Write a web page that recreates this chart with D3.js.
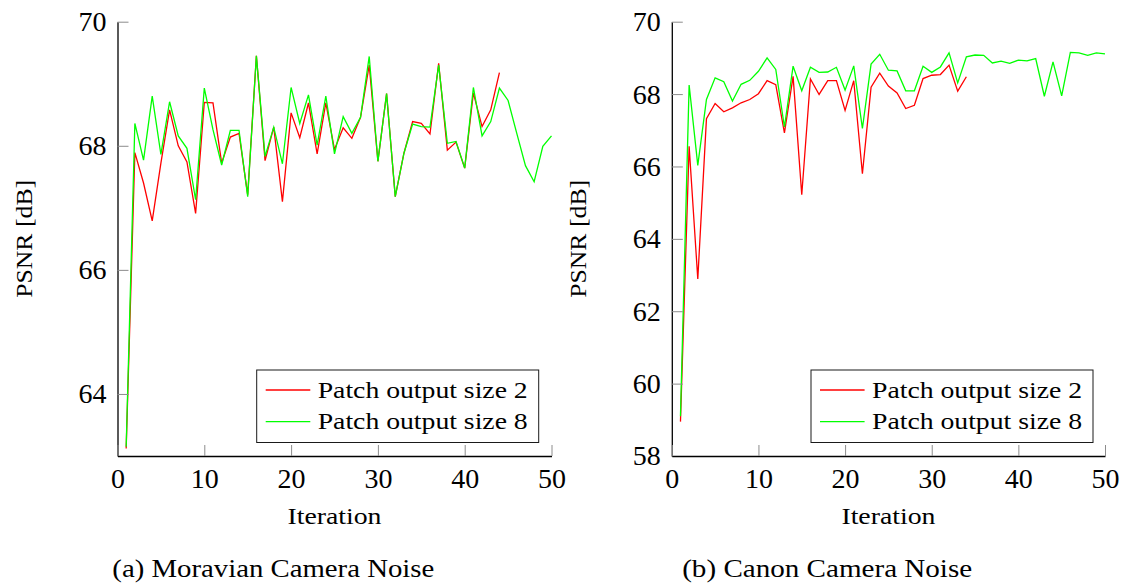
<!DOCTYPE html>
<html>
<head>
<meta charset="utf-8">
<script src="https://cdn.jsdelivr.net/npm/d3@7"></script>
<style>
  body { margin: 0; background: #fff; }
  svg { display: block; }
  svg text { font-family: "Liberation Serif", "Times New Roman", Times, "DejaVu Serif", serif; }
</style>
</head>
<body>
<svg id="fig" width="1129" height="588"></svg>
<script>
// Iteration numbers (x values)
const iterations = d3.range(1, 51);

// PSNR per iteration, Moravian camera noise
const moravianSize2 = [
  63.12, 67.89, 67.40, 66.79, 67.72, 68.58, 68.00, 67.74, 66.91, 68.70,
  68.69, 67.72, 68.14, 68.20, 67.21, 69.45, 67.76, 68.30, 67.10, 68.53,
  68.13, 68.69, 67.87, 68.69, 67.94, 68.29, 68.12, 68.46, 69.30, 67.75,
  68.84, 67.18, 67.88, 68.39, 68.36, 68.19, 69.33, 67.93, 68.06, 67.64,
  68.85, 68.31, 68.58, 69.18
];
const moravianSize8 = [
  63.15, 68.36, 67.77, 68.80, 67.86, 68.71, 68.16, 67.96, 67.13, 68.93,
  68.26, 67.69, 68.25, 68.25, 67.18, 69.45, 67.83, 68.30, 67.71, 68.94,
  68.36, 68.82, 68.01, 68.80, 67.87, 68.47, 68.20, 68.46, 69.44, 67.75,
  68.84, 67.18, 67.88, 68.35, 68.31, 68.30, 69.30, 68.04, 68.07, 67.64,
  68.94, 68.16, 68.39, 68.93, 68.73, 68.20, 67.68, 67.42, 67.99, 68.16
];

// PSNR per iteration, Canon camera noise
const canonSize2 = [
  58.95, 66.56, 62.89, 67.32, 67.74, 67.51, 67.62, 67.76, 67.85, 68.01,
  68.37, 68.26, 66.93, 68.49, 65.22, 68.42, 67.99, 68.37, 68.37, 67.55,
  68.37, 65.80, 68.19, 68.58, 68.22, 68.03, 67.60, 67.69, 68.43, 68.52,
  68.54, 68.80, 68.08, 68.48
];
const canonSize8 = [
  59.10, 68.25, 66.03, 67.85, 68.45, 68.34, 67.81, 68.27, 68.38, 68.63,
  69.00, 68.68, 67.09, 68.77, 68.09, 68.74, 68.60, 68.61, 68.74, 68.11,
  68.78, 67.05, 68.83, 69.10, 68.66, 68.64, 68.09, 68.09, 68.77, 68.60,
  68.75, 69.14, 68.31, 69.03, 69.08, 69.07, 68.86, 68.91, 68.85, 68.94,
  68.92, 68.98, 67.94, 68.89, 67.95, 69.15, 69.14, 69.07, 69.14, 69.11
];

// Tick labels and text
const xTicks = [0, 10, 20, 30, 40, 50];
const moravianYTicks = [64, 66, 68, 70];
const canonYTicks = [58, 60, 62, 64, 66, 68, 70];
const seriesNames = ["Patch output size 2", "Patch output size 8"];
const seriesColors = ["#ff0000", "#00ff00"];
const captions = ["(a) Moravian Camera Noise", "(b) Canon Camera Noise"];
const xLabel = "Iteration";
const yLabel = "PSNR [dB]";

const svg = d3.select("#fig");
svg.append("rect").attr("width", 1129).attr("height", 588).attr("fill", "#fff");

const TOP = 21.7, BOTTOM = 456;

function drawPanel(cfg) {
  const g = svg.append("g");
  const x = d3.scaleLinear().domain([0, 50]).range([cfg.left, cfg.right]);
  const y = d3.scaleLinear().domain(cfg.yDomain).range([BOTTOM, TOP]);

  // data lines
  const line = d3.line().x((d, i) => x(iterations[i])).y(d => y(d));
  cfg.series.forEach((s, k) => {
    g.append("path")
      .attr("d", line(s))
      .attr("fill", "none")
      .attr("stroke", seriesColors[k])
      .attr("stroke-width", 1.3)
      .attr("stroke-linejoin", "miter");
  });

  // y axis (ticks point into the plot)
  const ya = g.append("g")
    .attr("transform", `translate(${cfg.left},0)`)
    .call(d3.axisLeft(y).tickValues(cfg.yTicks).tickSizeInner(-11).tickSizeOuter(0)
      .tickPadding(11).tickFormat(d3.format("d")));
  // x axis
  const xa = g.append("g")
    .attr("transform", `translate(0,${BOTTOM})`)
    .call(d3.axisBottom(x).tickValues(xTicks).tickSizeInner(-11).tickSizeOuter(0)
      .tickPadding(12).tickFormat(d3.format("d")));

  [ya, xa].forEach(a => {
    a.attr("font-family", null).attr("font-size", 28);
    a.select(".domain").attr("stroke", "#000").attr("stroke-width", 1.3);
    a.selectAll(".tick line").attr("stroke", "#8c8c8c").attr("stroke-width", 1);
    a.selectAll(".tick text").attr("fill", "#000");
  });

  // axis titles
  g.append("text")
    .attr("x", (cfg.left + cfg.right) / 2).attr("y", 524)
    .attr("text-anchor", "middle")
    .attr("font-size", 24)
    .attr("textLength", 94).attr("lengthAdjust", "spacingAndGlyphs")
    .text(xLabel);
  g.append("text")
    .attr("transform", `translate(${cfg.left - 85.6},${(TOP + BOTTOM) / 2}) rotate(-90)`)
    .attr("text-anchor", "middle")
    .attr("font-size", 24)
    .attr("textLength", 118).attr("lengthAdjust", "spacingAndGlyphs")
    .text(yLabel);

  // legend
  const lg = g.append("g").attr("transform", `translate(${cfg.legendX},370)`);
  lg.append("rect")
    .attr("width", 282).attr("height", 72.5)
    .attr("fill", "#fff").attr("stroke", "#1a1a1a").attr("stroke-width", 1);
  seriesNames.forEach((name, k) => {
    const ly = 20 + k * 31.7;
    lg.append("line")
      .attr("x1", 9).attr("x2", 53.6).attr("y1", ly).attr("y2", ly)
      .attr("stroke", seriesColors[k]).attr("stroke-width", 1.3);
    lg.append("text")
      .attr("x", 61).attr("y", ly + 7.5)
      .attr("font-size", 24)
      .attr("textLength", 210).attr("lengthAdjust", "spacingAndGlyphs")
      .text(name);
  });

  // subfigure caption
  g.append("text")
    .attr("x", cfg.captionX).attr("y", 577.3)
    .attr("text-anchor", "middle")
    .attr("font-size", 26)
    .attr("textLength", cfg.captionLen).attr("lengthAdjust", "spacingAndGlyphs")
    .text(cfg.caption);
}

drawPanel({
  left: 117.5, right: 551.5, yDomain: [63.0, 70], yTicks: moravianYTicks,
  series: [moravianSize2, moravianSize8], legendX: 256.7,
  caption: captions[0], captionX: 273.3, captionLen: 322
});
drawPanel({
  left: 671.8, right: 1105, yDomain: [58, 70], yTicks: canonYTicks,
  series: [canonSize2, canonSize8], legendX: 811,
  caption: captions[1], captionX: 827.2, captionLen: 290
});
</script>
</body>
</html>
